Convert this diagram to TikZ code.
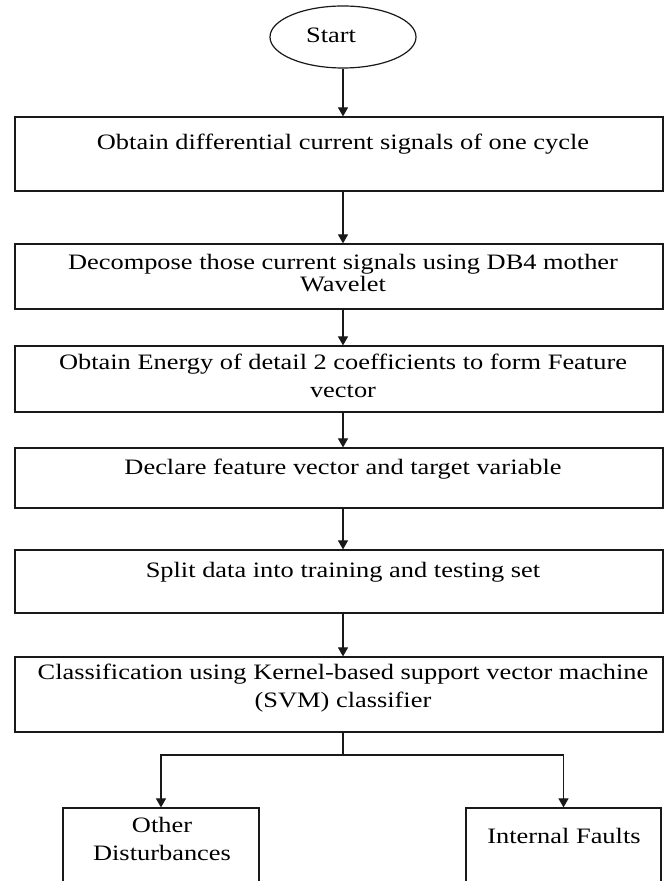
\documentclass[tikz,border=0pt]{standalone}
\usepackage{fontspec}
\setmainfont{Liberation Serif}[FakeStretch=1.2]
\usetikzlibrary{shapes.geometric,arrows.meta}
\begin{document}
\begin{tikzpicture}[x=1pt,y=1pt,
  box/.style={draw=black!90, line width=1.2pt, rectangle, inner sep=0pt},
  txt/.style={anchor=base, inner sep=0pt, font=\fontsize{22pt}{26pt}\selectfont, text=black},
  arr/.style={draw=black!90, line width=1.2pt, -{Triangle[width=10pt,length=9pt]}},
  ln/.style={draw=black!90, line width=1.2pt}]
\useasboundingbox (0,0) rectangle (666,881);
\clip (0,0) rectangle (666,881);
\fill[white] (0,0) rectangle (666,881);

% start
\node[box, ellipse, minimum width=146pt, minimum height=62pt] (start) at (343,844) {};
\node[txt] (tstart) at (331,838) {Start};

% main boxes
\node[box, minimum width=648pt, minimum height=74pt] (b1) at (339,727) {};
\node[txt] (t1) at (343,731) {Obtain differential current signals of one cycle};

\node[box, minimum width=648pt, minimum height=65pt] (b2) at (339,604.5) {};
\node[txt] (t2a) at (343,611) {Decompose those current signals using DB4 mother};
\node[txt] (t2b) at (343,589) {Wavelet};

\node[box, minimum width=648pt, minimum height=66pt] (b3) at (339,502) {};
\node[txt] (t3a) at (343,511) {Obtain Energy of detail 2 coefficients to form Feature};
\node[txt] (t3b) at (343,483) {vector};

\node[box, minimum width=648pt, minimum height=60pt] (b4) at (339,403) {};
\node[txt] (t4) at (343,406) {Declare feature vector and target variable};

\node[box, minimum width=648pt, minimum height=63pt] (b5) at (339,299.5) {};
\node[txt] (t5) at (343,303) {Split data into training and testing set};

\node[box, minimum width=648pt, minimum height=75pt] (b6) at (339,186.5) {};
\node[txt] (t6a) at (343,201) {Classification using Kernel-based support vector machine};
\node[txt] (t6b) at (343,173) {(SVM) classifier};

% outcome boxes
\node[box, minimum width=196pt, minimum height=100pt] (ob) at (161,23) {};
\node[txt] (tob1) at (162,48) {Other};
\node[txt] (tob2) at (162,20) {Disturbances};

\node[box, minimum width=195pt, minimum height=100pt] (if) at (563.5,23) {};
\node[txt] (tif) at (564,37) {Internal Faults};

% connectors
\coordinate (j) at (343,126);
\draw[arr] (start.south) -- (start.south |- b1.north);
\draw[arr] (b1.south -| start.south) -- (b2.north -| start.south);
\draw[arr] (b2.south -| start.south) -- (b3.north -| start.south);
\draw[arr] (b3.south -| start.south) -- (b4.north -| start.south);
\draw[arr] (b4.south -| start.south) -- (b5.north -| start.south);
\draw[arr] (b5.south -| start.south) -- (b6.north -| start.south);
\draw[ln] (b6.south -| j) -- (j);
\draw[arr] (j) -| (ob.north);
\draw[arr] (j) -| (if.north);
\end{tikzpicture}
\end{document}
